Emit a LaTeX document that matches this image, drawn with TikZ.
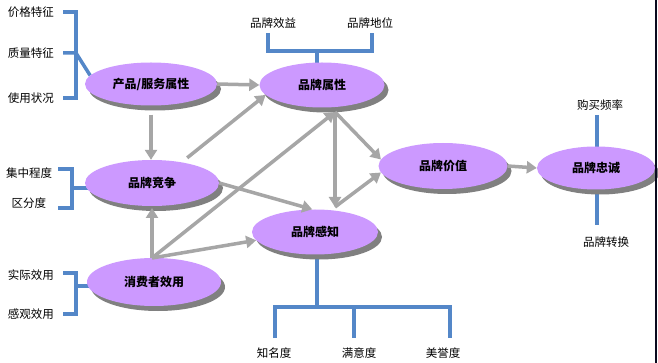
\documentclass[tikz,border=0pt]{standalone}
\usepackage{fontspec}
\setmainfont{Noto Sans CJK SC}
\usetikzlibrary{shapes.geometric,arrows.meta,shadows,backgrounds}
\definecolor{lav}{RGB}{204,153,255}
\definecolor{shgray}{RGB}{128,128,128}
\definecolor{arrgray}{RGB}{166,166,166}
\definecolor{blu}{RGB}{84,135,200}
\definecolor{edge}{RGB}{10,10,30}
\begin{document}
\begin{tikzpicture}[x=1pt,y=-1pt,
  ell/.style={ellipse, fill=lav, inner sep=0pt,
    font=\bfseries\fontsize{12}{14}\selectfont,
    drop shadow={shadow xshift=4pt,shadow yshift=-5pt,fill=shgray,opacity=1}},
  lab/.style={font=\fontsize{11.5}{14}\selectfont, inner sep=0pt},
  arr/.style={draw=arrgray, line width=3.5pt, -{Triangle[length=10pt,width=12pt]}},
  br/.style={draw=blu, line width=3.5pt}
]
\useasboundingbox (0,0) rectangle (658,363);

% ellipses
\node[ell, minimum width=132pt, minimum height=43pt] (ps) at (151,84) {产品/服务属性};
\node[ell, minimum width=125pt, minimum height=45pt] (ba) at (322,85) {品牌属性};
\node[ell, minimum width=134pt, minimum height=46pt] (bc) at (152,183) {品牌竞争};
\node[ell, minimum width=134pt, minimum height=48pt] (cu) at (154,282) {消费者效用};
\node[ell, minimum width=126pt, minimum height=45pt] (bp) at (315,232) {品牌感知};
\node[ell, minimum width=129pt, minimum height=46pt] (bv) at (443,166) {品牌价值};
\node[ell, minimum width=118pt, minimum height=43pt] (bl) at (596,168) {品牌忠诚};

% labels
\node[lab] (l1) at (31,12) {价格特征};
\node[lab] (l2) at (31,53) {质量特征};
\node[lab] (l3) at (31,98) {使用状况};
\node[lab] (l4) at (29,173) {集中程度};
\node[lab] (l5) at (29,203) {区分度};
\node[lab] (l6) at (31,275) {实际效用};
\node[lab] (l7) at (31,314) {感观效用};
\node[lab] (t1) at (273,23) {品牌效益};
\node[lab] (t2) at (370,23) {品牌地位};
\node[lab] (r1) at (600,105) {购买频率};
\node[lab] (r2) at (606,242) {品牌转换};
\node[lab] (b1) at (274,353) {知名度};
\node[lab] (b2) at (359,353) {满意度};
\node[lab] (b3) at (443,353) {美誉度};

\coordinate (bahub) at (335,112);
\coordinate (bphub) at (335,207);
\coordinate (cuhub) at (152,258);

% blue brackets
\begin{scope}[on background layer]
\fill[white] (0,0) rectangle (658,363);
\draw[br] (63,12) -- (76,12) -- (76,98) -- (63,98);
\draw[br] (63,53) -- (76,53) -- (ps.172);
\draw[br] (58,169) -- (72,169) -- (72,208) -- (58,208);
\draw[br] (72,188) -- (94,188);
\draw[br] (63,273) -- (76,273) -- (76,314) -- (63,314);
\draw[br] (76,286) -- (94,286);
\draw[br] (268,33) -- (268,51) -- (372,51) -- (372,33);
\draw[br] (317,51) -- (317,70);
\draw[br] (597,115) -- (597,155);
\draw[br] (597,186) -- (597,225);
\draw[br] (317,250) -- (317,307);
\draw[br] (275,338) -- (275,307) -- (450,307) -- (450,338);
\draw[br] (354,307) -- (354,338);
\end{scope}

% arrows
\draw[arr] (ps.east) -- (ba.west);
\draw[arr] ([yshift=-9pt]ps.south) -- (ps.south |- bc.north);
\draw[arr, shorten <=7pt] (bc.35) -- (ba.190);
\draw[arr] (bc.east) -- (bp.97);
\draw[arr] (cuhub) -- (cuhub |- 0,208);
\draw[arr] (cuhub) -- (bahub);
\draw[arr] (cuhub) -- (bp.188);
\draw[arr] (bahub) -- (bphub);
\draw[arr] (bahub) -- (bv.174);
\draw[arr] (bphub) -- (bv.186);
\draw[arr] (bv.east) -- (bl.west);

% right edge line
\draw[edge, line width=1.2pt] (656,0) -- (656,363);
\end{tikzpicture}
\end{document}
